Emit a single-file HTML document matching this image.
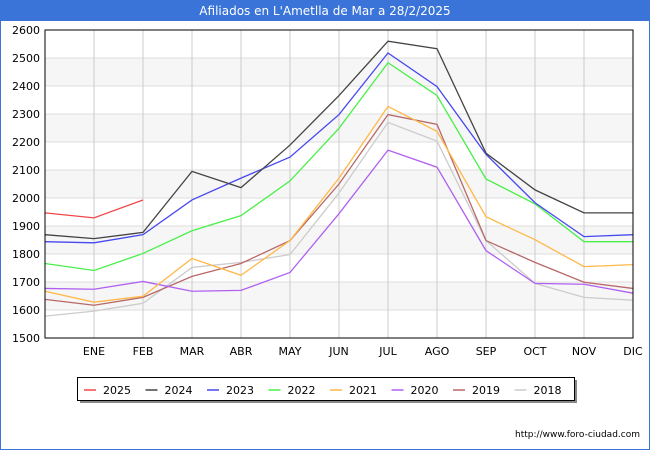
<!DOCTYPE html>
<html><head><meta charset="utf-8"><style>
body{margin:0;width:650px;height:450px;overflow:hidden;background:#fff;font-family:"Liberation Sans","DejaVu Sans",sans-serif}
</style></head><body>
<svg width="650" height="450" font-family="DejaVu Sans, Liberation Sans, sans-serif">
<rect x="0.5" y="0.5" width="649" height="449" fill="#fff" stroke="#3a74d8"/>
<rect x="0" y="0" width="650" height="21" fill="#3a74d8"/>
<text x="325" y="15" text-anchor="middle" fill="#fff" font-size="12">Afiliados en L'Ametlla de Mar a 28/2/2025</text>
<g id="grid"></g>
<g id="series"></g>
<rect x="45" y="30" width="588" height="308" fill="none" stroke="#000"/>
<g id="legend"></g>
<text x="640" y="437" text-anchor="end" font-size="9" fill="#000">http://www.foro-ciudad.com</text>
</svg>
<script>
const months=["","ENE","FEB","MAR","ABR","MAY","JUN","JUL","AGO","SEP","OCT","NOV","DIC"];
const yTicks=[1500,1600,1700,1800,1900,2000,2100,2200,2300,2400,2500,2600];
const years=["2025","2024","2023","2022","2021","2020","2019","2018"];
const colors=["#f04848","#444444","#4848f0","#48f048","#ffb848","#b060f0","#b86868","#cccccc"];
const s2025=[1947,1929,1993];
const s2024=[1869,1855,1877,2095,2037,2189,2366,2560,2533,2160,2029,1947,1947];
const s2023=[1844,1840,1869,1993,2071,2146,2298,2518,2398,2156,1983,1862,1869];
const s2022=[1766,1741,1802,1883,1937,2061,2249,2483,2366,2068,1979,1844,1844];
const s2021=[1667,1628,1649,1784,1724,1848,2071,2327,2238,1933,1851,1755,1762];
const s2020=[1677,1674,1702,1667,1670,1734,1944,2171,2110,1812,1695,1692,1660];
const s2019=[1638,1617,1645,1720,1766,1848,2050,2298,2263,1848,1770,1699,1677];
const s2018=[1578,1596,1624,1752,1770,1798,2018,2270,2203,1848,1695,1645,1635];
const allSeries=[s2025,s2024,s2023,s2022,s2021,s2020,s2019,s2018];
const NS="http://www.w3.org/2000/svg";
const x0=45,x1=633,y0=338,y1=30;
const X=i=>x0+i*(x1-x0)/12;
const Y=v=>y0-(v-1500)*(y0-y1)/1100;
function mk(t,a,p){const e=document.createElementNS(NS,t);for(const k in a)e.setAttribute(k,a[k]);p.appendChild(e);return e;}
const g=document.getElementById('grid');
for(let i=0;i<yTicks.length-1;i++){
 if(i%2==1){const r=mk('rect',{x:x0,y:Y(yTicks[i+1]),width:x1-x0,height:Y(yTicks[i])-Y(yTicks[i+1]),fill:'#f6f6f6'},g);
 
 }
}
yTicks.forEach(v=>{
 const l=mk('line',{x1:x0,x2:x1,y1:Y(v),y2:Y(v),stroke:'#dddddd'},g);
 
 
 const t=mk('text',{x:40,y:Y(v)+4,'text-anchor':'end','font-size':11,fill:'#000'},g);t.textContent=v;
 
 
});
months.forEach((m,i)=>{
 if(i==0)return;
 const l=mk('line',{x1:X(i),x2:X(i),y1:y1,y2:y0,stroke:'#cccccc'},g);
 
 
 const t=mk('text',{x:X(i),y:355,'text-anchor':'middle','font-size':11,fill:'#000'},g);t.textContent=m;
 
 
});
const sg=document.getElementById('series');
for(let k=allSeries.length-1;k>=0;k--){
 const pts=allSeries[k].map((v,i)=>X(i)+','+Y(v)).join(' ');
 const p=mk('polyline',{points:pts,fill:'none',stroke:colors[k],'stroke-width':1.3},sg);
 
 
}
const lg=document.getElementById('legend');
const sh=mk('rect',{x:80,y:380,width:497,height:23,fill:'#888'},lg);


const box=mk('rect',{x:77.5,y:377.5,width:497,height:23,fill:'#fff',stroke:'#000'},lg);


years.forEach((y,i)=>{
 const bx=84+i*61.5;
 const l=mk('line',{x1:bx,x2:bx+12,y1:390,y2:390,stroke:colors[i],'stroke-width':1.5},lg);
 
 
 const t=mk('text',{x:bx+19,y:394,'font-size':11,fill:'#000'},lg);t.textContent=y;
 
 
});
</script>
</body></html>
